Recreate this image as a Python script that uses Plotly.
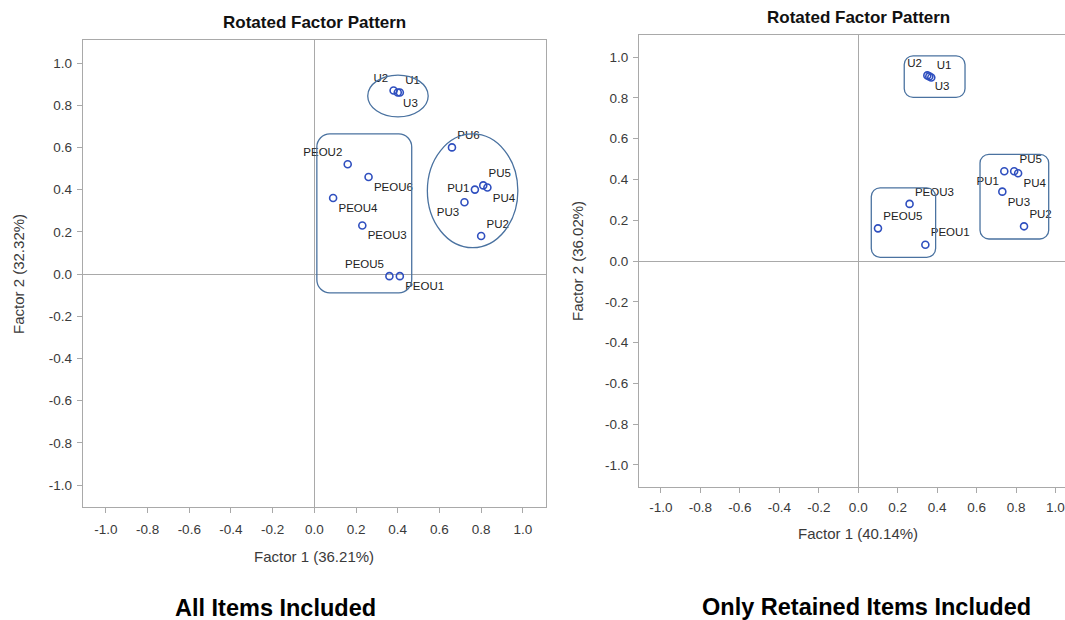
import plotly.graph_objects as go

# ---------------- data ----------------
left_items = ["U1", "U2", "U3", "PEOU1", "PEOU2", "PEOU3", "PEOU4", "PEOU5", "PEOU6",
              "PU1", "PU2", "PU3", "PU4", "PU5", "PU6"]
left_f1 = [0.41, 0.38, 0.40, 0.41, 0.16, 0.23, 0.09, 0.36, 0.26,
           0.77, 0.80, 0.72, 0.83, 0.81, 0.66]
left_f2 = [0.86, 0.87, 0.86, -0.01, 0.52, 0.23, 0.36, -0.01, 0.46,
           0.40, 0.18, 0.34, 0.41, 0.42, 0.60]

right_items = ["U1", "U2", "U3", "PEOU1", "PEOU3", "PEOU5",
               "PU1", "PU2", "PU3", "PU4", "PU5"]
right_f1 = [0.37, 0.35, 0.36, 0.34, 0.26, 0.10,
            0.74, 0.84, 0.73, 0.81, 0.79]
right_f2 = [0.90, 0.91, 0.905, 0.08, 0.28, 0.16,
            0.44, 0.17, 0.34, 0.43, 0.44]

left_x_title = "Factor 1 (36.21%)"
left_y_title = "Factor 2 (32.32%)"
right_x_title = "Factor 1 (40.14%)"
right_y_title = "Factor 2 (36.02%)"
tick_vals = [-1.0, -0.8, -0.6, -0.4, -0.2, 0.0, 0.2, 0.4, 0.6, 0.8, 1.0]
tick_text = ["-1.0", "-0.8", "-0.6", "-0.4", "-0.2", "0.0", "0.2", "0.4", "0.6", "0.8", "1.0"]

# group outlines (x0, x1, y0, y1) in factor units
left_u_ellipse = [0.256, 0.546, 0.745, 0.943]
left_pu_ellipse = [0.542, 0.976, 0.125, 0.664]
left_peou_box = [0.012, 0.467, -0.089, 0.664]
right_u_box = [0.233, 0.541, 0.802, 1.006]
right_peou_box = [0.066, 0.392, 0.018, 0.359]
right_pu_box = [0.617, 0.965, 0.108, 0.523]

# ---------------- styling ----------------
left_pos = {"U1": "top right", "U2": "top left", "U3": "bottom right",
            "PEOU1": "bottom right", "PEOU2": "top left", "PEOU3": "bottom right",
            "PEOU4": "bottom right", "PEOU5": "top left", "PEOU6": "bottom right",
            "PU1": "middle left", "PU2": "top right", "PU3": "bottom left",
            "PU4": "bottom right", "PU5": "top right", "PU6": "top right"}
right_pos = {"U1": "top right", "U2": "top left", "U3": "bottom right",
             "PEOU1": "top right", "PEOU3": "top right", "PEOU5": "top right",
             "PU1": "bottom left", "PU2": "top right", "PU3": "bottom right",
             "PU4": "bottom right", "PU5": "top right"}

W, H = 1065, 620
FONT = "Liberation Sans, Arial, sans-serif"
MARK = "#2f4fbf"
OUTL = "#4a72a0"
AXC = "#a9a9a9"
TXT = "#3a3a3a"

fig = go.Figure()
fig.add_trace(go.Scatter(
    x=left_f1, y=left_f2, text=left_items, mode="markers+text",
    textposition=[left_pos[i] for i in left_items],
    marker=dict(symbol="circle-open", size=7, color=MARK, line=dict(width=1.6, color=MARK)),
    textfont=dict(family=FONT, size=11.5, color="#222222"),
    xaxis="x", yaxis="y", showlegend=False, cliponaxis=False))
fig.add_trace(go.Scatter(
    x=right_f1, y=right_f2, text=right_items, mode="markers+text",
    textposition=[right_pos[i] for i in right_items],
    marker=dict(symbol="circle-open", size=7, color=MARK, line=dict(width=1.6, color=MARK)),
    textfont=dict(family=FONT, size=11.5, color="#222222"),
    xaxis="x2", yaxis="y2", showlegend=False, cliponaxis=False))


def rounded(b, rx, ry):
    x0, x1, y0, y1 = b
    k = 0.552
    p = (f"M {x0+rx},{y0} L {x1-rx},{y0} "
         f"C {x1-rx+k*rx},{y0} {x1},{y0+ry-k*ry} {x1},{y0+ry} "
         f"L {x1},{y1-ry} "
         f"C {x1},{y1-ry+k*ry} {x1-rx+k*rx},{y1} {x1-rx},{y1} "
         f"L {x0+rx},{y1} "
         f"C {x0+rx-k*rx},{y1} {x0},{y1-ry+k*ry} {x0},{y1-ry} "
         f"L {x0},{y0+ry} "
         f"C {x0},{y0+ry-k*ry} {x0+rx-k*rx},{y0} {x0+rx},{y0} Z")
    return p


shapes = []
for b in (left_u_ellipse, left_pu_ellipse):
    shapes.append(dict(type="circle", xref="x", yref="y", x0=b[0], x1=b[1], y0=b[2], y1=b[3],
                       line=dict(color=OUTL, width=1.3)))
shapes.append(dict(type="path", xref="x", yref="y", path=rounded(left_peou_box, 0.062, 0.062),
                   line=dict(color=OUTL, width=1.3)))
for b in (right_u_box, right_peou_box, right_pu_box):
    shapes.append(dict(type="path", xref="x2", yref="y2", path=rounded(b, 0.045, 0.043),
                       line=dict(color=OUTL, width=1.3)))

ax_common = dict(ticks="outside", ticklen=5,
                 tickcolor=AXC, showline=True, linecolor=AXC, linewidth=1, mirror=True,
                 showgrid=False, zeroline=True, zerolinecolor=AXC, zerolinewidth=1,
                 tickfont=dict(family=FONT, size=13.5, color=TXT))


def px2x(p):
    return p / W


def px2y(p):
    return 1 - p / H


# right x axis: last label sits on the page edge, drawn as an annotation below
right_x_text = tick_text[:-1] + [""]

fig.update_layout(
    width=W, height=H, autosize=False,
    margin=dict(l=0, r=0, t=0, b=0),
    paper_bgcolor="white", plot_bgcolor="white",
    shapes=shapes,
    xaxis=dict(domain=[px2x(82.7), px2x(546)], range=[-1.111, 1.111], anchor="y",
               tickvals=tick_vals, ticktext=tick_text, ticklabelstandoff=5, **ax_common),
    yaxis=dict(domain=[px2y(507), px2y(40)], range=[-1.104, 1.109], anchor="x",
               tickvals=tick_vals, ticktext=tick_text, ticklabelstandoff=2, **ax_common),
    xaxis2=dict(domain=[px2x(639), 1.0], range=[-1.111, 1.0476], anchor="y2",
                tickvals=tick_vals, ticktext=right_x_text, ticklabelstandoff=3, **ax_common),
    yaxis2=dict(domain=[px2y(487), px2y(34.6)], range=[-1.108, 1.110], anchor="x2",
                tickvals=tick_vals, ticktext=tick_text, ticklabelstandoff=2, **ax_common),
)

fig.add_annotation(text=tick_text[-1], x=tick_vals[-1], xref="x2", y=px2y(507), yref="paper",
                   xanchor="center", yanchor="middle", showarrow=False,
                   font=dict(family=FONT, size=13.5, color=TXT))

ann = [
    dict(text="<b>Rotated Factor Pattern</b>", x=px2x(314), y=px2y(22), size=17, color="#111111"),
    dict(text="<b>Rotated Factor Pattern</b>", x=px2x(858), y=px2y(17), size=17, color="#111111"),
    dict(text=left_x_title, x=px2x(314), y=px2y(556), size=15, color=TXT),
    dict(text=right_x_title, x=px2x(858), y=px2y(533), size=15, color=TXT),
    dict(text=left_y_title, x=px2x(18), y=px2y(274), size=15, color=TXT, angle=-90),
    dict(text=right_y_title, x=px2x(578), y=px2y(261), size=15, color=TXT, angle=-90),
    dict(text="<b>All Items Included</b>", x=px2x(275), y=px2y(608), size=23.5, color="#000000"),
    dict(text="<b>Only Retained Items Included</b>", x=px2x(866), y=px2y(607), size=23.5, color="#000000"),
]
for a in ann:
    fig.add_annotation(text=a["text"], x=a["x"], y=a["y"], xref="paper", yref="paper",
                       xanchor="center", yanchor="middle", showarrow=False,
                       textangle=a.get("angle", 0),
                       font=dict(family=FONT, size=a["size"], color=a["color"]))

fig.write_html("out.html", config={"displayModeBar": False},
               post_script="document.body.style.margin='0';document.body.style.padding='0';"
                           "document.documentElement.style.overflow='hidden';")
